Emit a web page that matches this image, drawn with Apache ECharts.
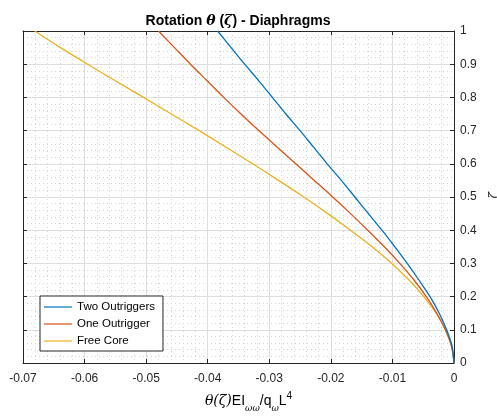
<!DOCTYPE html>
<html><head><meta charset="utf-8">
<script src="https://cdn.jsdelivr.net/npm/echarts@6/dist/echarts.min.js"></script>
<style>html,body{margin:0;padding:0;background:#fff}#c{width:497px;height:416px}</style>
</head><body><div id="c"></div>
<script>
const zeta = [0, 0.05, 0.1, 0.15, 0.2, 0.25, 0.3, 0.35, 0.4, 0.45, 0.5, 0.55, 0.6, 0.65, 0.7, 0.75, 0.8, 0.85, 0.9, 0.95, 1.0];
const twoOutriggers = [0, -0.0003, -0.0012, -0.0024, -0.0039, -0.0057, -0.0076, -0.0096, -0.0117, -0.0139, -0.0161, -0.0183, -0.0206, -0.0228, -0.0250, -0.0273, -0.0295, -0.0317, -0.0340, -0.0362, -0.0384];
const oneOutrigger = [0, -0.0004, -0.0014, -0.0028, -0.0045, -0.0065, -0.0088, -0.0113, -0.0140, -0.0168, -0.0197, -0.0227, -0.0257, -0.0287, -0.0317, -0.0346, -0.0374, -0.0401, -0.0428, -0.0454, -0.0480];
const freeCore = [0, -0.0004, -0.0014, -0.0029, -0.0049, -0.0073, -0.0101, -0.0133, -0.0168, -0.0205, -0.0244, -0.0285, -0.0327, -0.0370, -0.0414, -0.0459, -0.0504, -0.0550, -0.0595, -0.0639, -0.0681];
const seriesNames = ['Two Outriggers', 'One Outrigger', 'Free Core'];
const seriesColors = ['#0072BD', '#D95319', '#EDB120'];
const xTicks = {min: -0.07, max: 0, step: 0.01};
const yTicks = {min: 0, max: 1, step: 0.1};

const toPairs = arr => arr.map((v, i) => [v, zeta[i]]);
const allData = [twoOutriggers, oneOutrigger, freeCore];

const chart = echarts.init(document.getElementById('c'), null, {renderer: 'canvas'});
const axisCol = '#262626';
const font = 'Arial, "Liberation Sans", Helvetica, sans-serif';
const serif = '"DejaVu Serif", "Liberation Serif", serif';
const baseAxis = {
  type: 'value',
  axisLine: {show: true, onZero: false, lineStyle: {color: axisCol, width: 1}},
  axisTick: {show: true, inside: true, length: 4, lineStyle: {color: axisCol}},
  minorTick: {show: false, splitNumber: 5}
};
chart.setOption({
  animation: false,
  backgroundColor: '#fff',
  grid: {left: 23, right: 43, top: 31, bottom: 53, containLabel: false},
  title: {
    text: '{b|Rotation }{i|θ}{b| (}{i|ζ}{b|) - Diaphragms}',
    left: 233, top: 9, textAlign: 'center',
    textStyle: {
      rich: {
        b: {fontFamily: font, fontWeight: 'bold', fontSize: 14, color: '#000'},
        i: {fontFamily: serif, fontStyle: 'italic', fontWeight: 'bold', fontSize: 14, color: '#000'}
      }
    }
  },
  legend: {
    orient: 'vertical', left: 40, top: 296,
    itemWidth: 28, itemHeight: 14, itemGap: 5,
    padding: [5, 8, 4, 4],
    backgroundColor: '#fff', borderColor: axisCol, borderWidth: 1, borderRadius: 0,
    icon: 'path://M0,0 L28,0 L28,1.2 L0,1.2 Z',
    textStyle: {fontFamily: font, fontSize: 11.5, color: '#000', lineHeight: 12},
    data: seriesNames.map((n, i) => ({name: n, itemStyle: {color: seriesColors[i]}}))
  },
  xAxis: [
    Object.assign({}, baseAxis, {
      position: 'bottom', min: xTicks.min, max: xTicks.max, interval: xTicks.step,
      axisLabel: {show: true, margin: 10, fontFamily: font, fontSize: 12, color: axisCol,
        formatter: v => (Math.abs(v) < 1e-9 ? '0' : (+v.toFixed(2)).toString())},
      splitLine: {show: true, lineStyle: {color: '#dedede', width: 1}},
      minorSplitLine: {show: true, lineStyle: {color: '#d6d6d6', width: 1, type: [1, 3]}}
    }),
    Object.assign({}, baseAxis, {
      position: 'top', min: xTicks.min, max: xTicks.max, interval: xTicks.step,
      axisLabel: {show: false}, splitLine: {show: false}
    })
  ],
  yAxis: [
    Object.assign({}, baseAxis, {
      position: 'right', min: yTicks.min, max: yTicks.max, interval: yTicks.step,
      axisLabel: {show: true, margin: 6, fontFamily: font, fontSize: 12, color: axisCol,
        formatter: v => (+v.toFixed(1)).toString()},
      splitLine: {show: true, lineStyle: {color: '#dedede', width: 1}},
      minorSplitLine: {show: true, lineStyle: {color: '#d6d6d6', width: 1, type: [1, 3]}}
    }),
    Object.assign({}, baseAxis, {
      position: 'left', min: yTicks.min, max: yTicks.max, interval: yTicks.step,
      axisLabel: {show: false}, splitLine: {show: false}
    })
  ],
  series: allData.map((arr, i) => ({
    name: seriesNames[i], type: 'line', data: toPairs(arr),
    xAxisIndex: 0, yAxisIndex: 0,
    showSymbol: false, symbol: 'none', smooth: 0.3,
    lineStyle: {color: seriesColors[i], width: 1.3},
    itemStyle: {color: seriesColors[i]}, z: 10 - i
  })),
  graphic: [
    {
      type: 'text', left: 'center', top: 388, z: 20,
      style: {
        text: '{t|θ(ζ)}{n|EI}{s|ωω}{n|/q}{s|ω}{n|L}{p|4}',
        rich: {
          t: {fontFamily: serif, fontStyle: 'italic', fontSize: 14, color: axisCol, verticalAlign: 'middle', lineHeight: 26},
          n: {fontFamily: font, fontSize: 14, color: axisCol, verticalAlign: 'middle', lineHeight: 26},
          s: {fontFamily: serif, fontStyle: 'italic', fontSize: 9, color: axisCol, verticalAlign: 'bottom', lineHeight: 26, padding: [0, 0, 1, 0]},
          p: {fontFamily: font, fontSize: 10, color: axisCol, verticalAlign: 'top', lineHeight: 26, padding: [3, 0, 0, 0]}
        }
      }
    },
    {
      type: 'text', left: 489, top: 192, rotation: Math.PI / 2, z: 20,
      style: {text: 'ζ', fontFamily: serif, fontStyle: 'italic', fontSize: 12, fill: axisCol}
    }
  ]
});
</script></body></html>
